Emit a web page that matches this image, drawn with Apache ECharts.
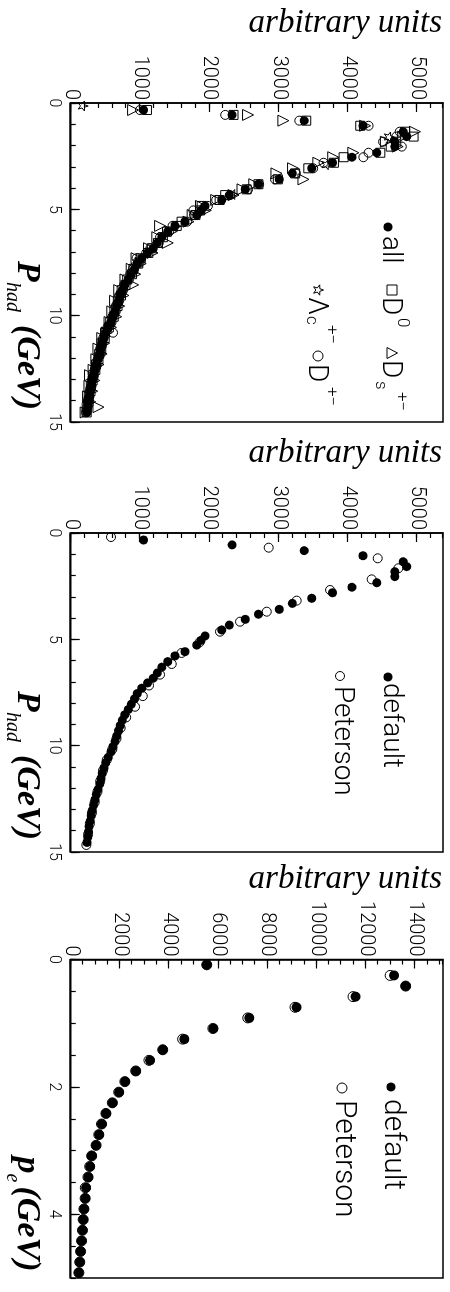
<!DOCTYPE html>
<html><head><meta charset="utf-8">
<script src="https://cdn.jsdelivr.net/npm/echarts@6/dist/echarts.min.js"></script>
<style>
html,body{margin:0;padding:0;background:#fff;overflow:hidden;width:450px;height:1292px}
#wrap{position:absolute;left:0;top:0;width:1292px;height:450px;transform-origin:0 0;transform:translate(450px,0) rotate(90deg);}
#chart{width:1292px;height:450px;background:#fff}
</style></head>
<body><div id="wrap"><div id="chart"></div></div>
<script>
// ---------- data ----------
const pHad = [0.33,0.56,0.83,1.07,1.35,1.58,1.82,2.05,2.34,2.55,2.81,3.07,3.31,3.59,3.82,4.06,4.33,4.56,4.84,5.05,5.27,5.58,5.78,6.05,6.31,6.58,6.83,7.05,7.30,7.55,7.80,8.05,8.30,8.55,8.80,9.05,9.30,9.55,9.80,10.05,10.30,10.55,10.80,11.05,11.30,11.55,11.80,12.05,12.30,12.55,12.80,13.05,13.30,13.55,13.80,14.05,14.30,14.55];
const allVals = [1050,2330,3370,4220,4800,4850,4680,4680,4420,4060,3780,3480,3200,3010,2710,2520,2290,2180,1940,1880,1820,1650,1505,1400,1315,1250,1190,1110,1025,960,920,875,830,780,745,715,690,665,640,610,580,540,505,480,455,435,420,395,370,350,330,310,295,280,265,255,245,235];
const d0Vals = [1100,2350,3400,4180,4830,4950,4700,4620,4470,3940,3800,3430,3240,2990,2710,2540,2230,2150,1890,1870,1800,1600,1530,1390,1330,1260,1170,1120,1010,975,905,885,815,790,735,725,680,675,630,620,570,550,495,490,445,440,410,400,365,355,325,315,290,285,260,255,230,230];
const dsVals = [900,2560,3070,4250,4970,4800,4550,4720,4080,3790,3575,3210,2970,3360,2650,2480,2350,2100,1880,1950,1760,1700,1290,1450,1250,1400,1130,1180,950,1010,880,930,790,900,700,760,640,700,600,655,560,580,520,455,480,400,445,370,400,330,278,340,270,310,250,280,400,215];
const dpVals = [1000,2230,3300,4300,4750,4700,4510,4780,4300,4225,3650,3500,3250,2950,2720,2560,2300,2100,1980,1770,1780,1680,1470,1420,1290,1270,1150,1090,950,980,900,860,840,770,755,700,700,650,650,600,590,530,610,470,460,425,430,390,375,345,335,305,300,275,270,245,240,220];
const lcP = [0.14,1.60,2.90,4.30,5.80,7.40,9.10,10.70,12.40,14.10];
const lcVals = [180,4600,3700,2350,1520,1000,720,520,370,260];
const petP = [0.19,0.69,1.19,1.66,2.18,2.68,3.18,3.70,4.17,4.64,5.14,5.64,6.16,6.66,7.17,7.67,8.17,8.67,9.17,9.67,10.17,10.67,11.17,11.67,12.17,12.67,13.17,13.67,14.17,14.67];
const petVals = [581,2858,4432,4730,4345,3744,3262,2830,2444,2155,1860,1600,1458,1289,1130,1040,928,800,720,660,600,520,465,425,385,345,305,275,250,225];
const pE = [0.083,0.25,0.417,0.583,0.75,0.917,1.083,1.25,1.417,1.583,1.75,1.917,2.083,2.25,2.417,2.583,2.75,2.917,3.083,3.25,3.417,3.583,3.75,3.917,4.083,4.25,4.417,4.583,4.75,4.917];
const peDefault = [5530,13150,13620,11580,9180,7260,5800,4620,3740,3220,2650,2205,1960,1700,1430,1260,1150,1030,850,780,710,620,590,540,510,480,440,400,370,330];
const pePeterson = [5530,12990,13620,11480,9120,7200,5780,4550,3740,3180,2640,2200,1950,1690,1430,1250,1140,1030,850,770,700,590,585,535,505,475,440,400,365,330];
const unitMax = [5375, 5375, 15140];
const unitMajor = [1000, 1000, 2000];
const unitMinor = [200, 200, 500];
const pMax = [15, 15, 5];
const pMajor = [5, 5, 2];
const pMinorStep = [1, 1, 0.5];

// ---------- layout ----------
const SANS = 'Roboto, "Liberation Sans", sans-serif';
const SERIF = '"Liberation Serif", "DejaVu Serif", serif';
const gridLeft = [103, 533, 959.5];
const gridW = [319, 319, 318.5];
const grids = gridLeft.map((l, i) => ({left: l, top: 7, width: gridW[i], height: 372.25, show: true, borderColor: '#000', borderWidth: 1.5, backgroundColor: 'transparent'}));
const plain = v => String(v);

const xAxes = [], yAxes = [];
for (let i = 0; i < 3; i++) {
  xAxes.push({gridIndex: i, type: 'value', min: 0, max: pMax[i], interval: pMajor[i], position: 'bottom',
    axisLine: {show: true, onZero: false, lineStyle: {color: '#000', width: 1.5}},
    axisTick: {show: true, inside: true, length: 9, lineStyle: {color: '#000', width: 1.2}},
    axisLabel: {show: true, color: '#000', fontSize: 16, fontFamily: SANS, fontWeight: 300, margin: 9, showMaxLabel: i < 2, showMinLabel: true, formatter: plain},
    splitLine: {show: false}});
  yAxes.push({gridIndex: i, type: 'value', min: 0, max: unitMax[i], interval: unitMajor[i], position: 'left',
    axisLine: {show: true, onZero: false, lineStyle: {color: '#000', width: 1.5}},
    axisTick: {show: true, inside: true, length: 9, lineStyle: {color: '#000', width: 1.2}},
    axisLabel: {show: true, color: '#000', fontSize: 20, fontFamily: SANS, fontWeight: 300, margin: 3, showMaxLabel: false, showMinLabel: true, formatter: plain},
    splitLine: {show: false}});
}
for (let i = 0; i < 3; i++) {
  xAxes.push({gridIndex: i, type: 'value', min: 0, max: pMax[i], interval: pMinorStep[i], position: 'bottom',
    axisLine: {show: false}, axisTick: {show: true, inside: true, length: 5, lineStyle: {color: '#000', width: 1.2}},
    axisLabel: {show: false}, splitLine: {show: false}});
  yAxes.push({gridIndex: i, type: 'value', min: 0, max: unitMax[i], interval: unitMinor[i], position: 'left',
    axisLine: {show: false}, axisTick: {show: true, inside: true, length: 5, lineStyle: {color: '#000', width: 1.2}},
    axisLabel: {show: false}, splitLine: {show: false}});
}

const STAR = 'path://M0,-10L2.35,-3.24L9.51,-3.09L3.8,1.24L5.88,8.09L0,4L-5.88,8.09L-3.8,1.24L-9.51,-3.09L-2.35,-3.24Z';
function sc(name, g, xs, ys, symbol, size, filled, z) {
  return {type: 'scatter', name, xAxisIndex: g, yAxisIndex: g, data: xs.map((x, k) => [x, ys[k]]),
    symbol, symbolSize: size, z, silent: true,
    itemStyle: filled ? {color: '#000', opacity: 1} : {color: 'rgba(255,255,255,0)', borderColor: '#000', borderWidth: 1, opacity: 1}};
}
const series = [
  sc('D+-', 0, pHad, dpVals, 'circle', 9, false, 2),
  sc('Ds+-', 0, pHad, dsVals, 'triangle', 11, false, 2),
  sc('D0', 0, pHad, d0Vals, 'rect', 9, false, 2),
  sc('Lc+-', 0, lcP, lcVals, STAR, 10, false, 2),
  sc('all', 0, pHad, allVals, 'circle', 9, true, 3),
  sc('Peterson', 1, petP, petVals, 'circle', 9, false, 2),
  sc('default', 1, pHad, allVals, 'circle', 9, true, 3),
  sc('Peterson', 2, pE, pePeterson, 'circle', 10, false, 2),
  sc('default', 2, pE, peDefault, 'circle', 10, true, 3)
];

// ---------- texts ----------
function txt(x, yMid, s, font, extra) {
  return Object.assign({type: 'text', x: x, y: yMid, silent: true,
    style: {text: s, font: font, fill: '#000', align: 'left', verticalAlign: 'middle', textAlign: 'left', textVerticalAlign: 'middle'}}, extra || {});
}
const g = [];
const LF = (s) => '300 ' + s + 'px ' + SANS;
const PM = '+\u2212';
for (let i = 0; i < 3; i++) {
  const gl = gridLeft[i];
  g.push({type: 'text', x: gl - 80, y: 8, rotation: Math.PI / 2, silent: true,
    style: {text: 'arbitrary units', font: 'italic 33px ' + SERIF, fill: '#000', align: 'right', verticalAlign: 'middle', textAlign: 'right', textVerticalAlign: 'middle'}});
}
// x titles
[0, 1].forEach(i => {
  const gl = gridLeft[i];
  g.push(txt(gl + 158, 423, 'P', 'italic bold 34px ' + SERIF));
  g.push(txt(gl + 179, 438, 'had', 'italic 20px ' + SERIF));
  g.push(txt(gl + 222, 423, '(GeV)', 'italic bold 34px ' + SERIF));
});
g.push(txt(gridLeft[2] + 197, 423, 'p', 'italic bold 34px ' + SERIF));
g.push(txt(gridLeft[2] + 214, 438, 'e', 'italic 20px ' + SERIF));
g.push(txt(gridLeft[2] + 227, 423, '(GeV)', 'italic bold 34px ' + SERIF));

// legend panel 1
const B1 = 69, B2 = 143;
g.push({type: 'circle', shape: {cx: 227, cy: 62, r: 4.5}, style: {fill: '#000'}, silent: true});
g.push(txt(236, B1 - 9, 'all', LF(28)));
g.push({type: 'rect', shape: {x: 285, y: 53, width: 10, height: 10}, style: {fill: 'none', stroke: '#000', lineWidth: 1}, silent: true});
g.push(txt(297, B1 - 9, 'D', LF(28)));
g.push(txt(318, 48, '0', LF(17)));
g.push({type: 'polygon', shape: {points: [[353, 52.5], [358.5, 63], [347.5, 63]]}, style: {fill: 'none', stroke: '#000', lineWidth: 1}, silent: true});
g.push(txt(360, B1 - 9, 'D', LF(28)));
g.push(txt(381, 70, 's', LF(17)));
g.push(txt(392, 49, PM, LF(17)));
g.push({type: 'polygon', shape: {points: [[290,126.5],[291.3,130.2],[295.2,130.3],[292.1,132.7],[293.2,136.4],[290,134.2],[286.8,136.4],[287.9,132.7],[284.8,130.3],[288.7,130.2]]}, style: {fill: 'none', stroke: '#000', lineWidth: 1}, silent: true});
g.push(txt(297, B2 - 9, '\u039B', LF(28)));
g.push(txt(316, 139, 'c', LF(17)));
g.push(txt(325, 119, PM, LF(17)));
g.push({type: 'circle', shape: {cx: 356, cy: 132, r: 5}, style: {fill: 'none', stroke: '#000', lineWidth: 1}, silent: true});
g.push(txt(364, B2 - 9, 'D', LF(28)));
g.push(txt(387, 119, PM, LF(17)));
// legend panel 2
g.push({type: 'circle', shape: {cx: 677, cy: 62, r: 4.5}, style: {fill: '#000'}, silent: true});
g.push(txt(683, 68 - 9, 'default', LF(28)));
g.push({type: 'circle', shape: {cx: 676, cy: 110, r: 4.5}, style: {fill: 'none', stroke: '#000', lineWidth: 1}, silent: true});
g.push(txt(686, 117 - 9, 'Peterson', LF(28)));
// legend panel 3
g.push({type: 'circle', shape: {cx: 1087, cy: 59, r: 4.5}, style: {fill: '#000'}, silent: true});
g.push(txt(1099, 66 - 9, 'default', LF(30)));
g.push({type: 'circle', shape: {cx: 1088, cy: 108, r: 5}, style: {fill: 'none', stroke: '#000', lineWidth: 1}, silent: true});
g.push(txt(1100, 115 - 9, 'Peterson', LF(30)));

const chart = echarts.init(document.getElementById('chart'), null, {renderer: 'canvas'});
chart.setOption({
  animation: false,
  backgroundColor: '#fff',
  grid: grids,
  xAxis: xAxes,
  yAxis: yAxes,
  series: series,
  graphic: {elements: g}
});
</script></body></html>
